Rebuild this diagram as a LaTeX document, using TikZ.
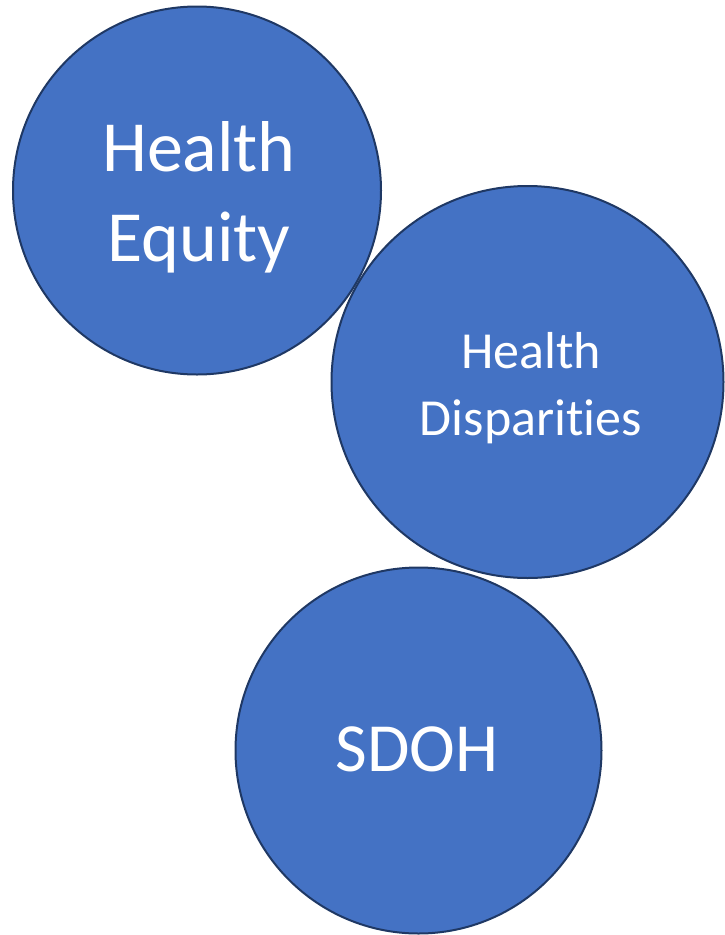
\documentclass[tikz,border=0pt]{standalone}
\usepackage{fontspec}
\setmainfont{Carlito}[Ligatures={NoCommon}]
\definecolor{bubblefill}{HTML}{4472C4}
\definecolor{bubbleline}{HTML}{1F3864}
\begin{document}
\begin{tikzpicture}[x=1pt,y=-1pt,
  bubble/.style={circle, fill=bubblefill, draw=bubbleline, line width=2pt, inner sep=0pt},
  bubbletext/.style={text=white, align=center, inner sep=0pt, anchor=base}]
\useasboundingbox (0,0) rectangle (725,935);
\node[bubble, minimum size=368pt] (equity) at (197,190.5) {};
\node[bubble, minimum size=392pt] (disp) at (527.5,382) {};
\node[bubble, minimum size=366pt] (sdoh) at (418.5,750.5) {};
\node[bubbletext, font=\fontsize{72}{90}\selectfont] (equitytext) at (199,261.7) {Health\\Equity};
\node[bubbletext, font=\fontsize{52}{66.7}\selectfont] (disptext) at (531,435) {Health\\Disparities};
\node[bubbletext, font=\fontsize{69}{80}\selectfont] (sdohtext) at (417,771) {SDOH};
\end{tikzpicture}
\end{document}
